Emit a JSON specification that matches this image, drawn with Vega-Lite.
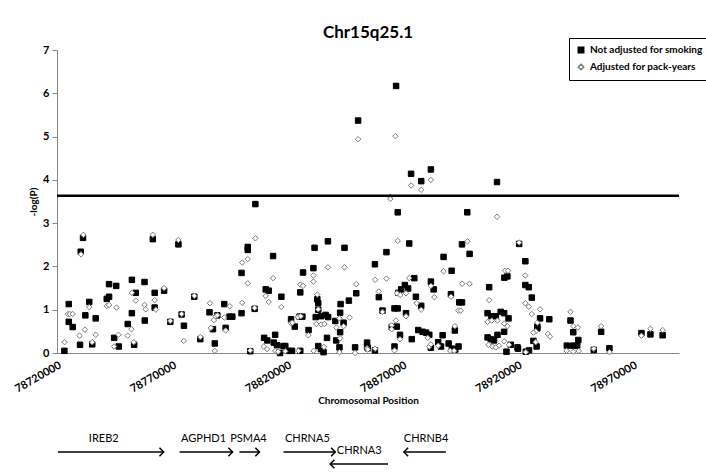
{
"$schema": "https://vega.github.io/schema/vega-lite/v6.json",
"padding": {"left": 12, "top": 24, "right": 5, "bottom": 0},
"background": "white",
"config": {
  "font": "Lato",
  "view": {"stroke": null},
  "axis": {"domainColor": "#868686", "tickColor": "#868686", "labelFontWeight": "bold", "labelFontSize": 11, "labelColor": "#000", "titleFontSize": 10, "titleFontWeight": "bold", "titleColor": "#000", "grid": false},
  "legend": {"labelFontSize": 10, "labelFontWeight": "bold", "labelColor": "#000"}
},
"spacing": 22,
"resolve": {"scale": {"x": "independent", "y": "independent"}},
"datasets": {
"snps": [
{"p":78723200,"v":0.05,"m":"u"},{"p":78725100,"v":1.13,"m":"u"},{"p":78725100,"v":0.72,"m":"u"},{"p":78726800,"v":0.6,"m":"u"},{"p":78730000,"v":0.19,"m":"u"},{"p":78730300,"v":2.34,"m":"u"},{"p":78731300,"v":2.66,"m":"u"},{"p":78732300,"v":0.87,"m":"u"},{"p":78734000,"v":1.18,"m":"u"},{"p":78735300,"v":0.2,"m":"u"},{"p":78736800,"v":0.8,"m":"u"},{"p":78741600,"v":1.25,"m":"u"},{"p":78742600,"v":1.3,"m":"u"},{"p":78742600,"v":1.59,"m":"u"},{"p":78745700,"v":1.55,"m":"u"},{"p":78744800,"v":0.35,"m":"u"},{"p":78746800,"v":0.15,"m":"u"},{"p":78750700,"v":0.67,"m":"u"},{"p":78752500,"v":1.69,"m":"u"},{"p":78754200,"v":1.39,"m":"u"},{"p":78752500,"v":0.92,"m":"u"},{"p":78753500,"v":0.19,"m":"u"},{"p":78758000,"v":1.64,"m":"u"},{"p":78758100,"v":0.75,"m":"u"},{"p":78761600,"v":2.63,"m":"u"},{"p":78762400,"v":1.39,"m":"u"},{"p":78762400,"v":1.05,"m":"u"},{"p":78766500,"v":1.44,"m":"u"},{"p":78769200,"v":0.72,"m":"u"},{"p":78772700,"v":2.51,"m":"u"},{"p":78774100,"v":0.89,"m":"u"},{"p":78775100,"v":0.63,"m":"u"},{"p":78779600,"v":1.3,"m":"u"},{"p":78782200,"v":0.32,"m":"u"},{"p":78786200,"v":0.94,"m":"u"},{"p":78787700,"v":0.55,"m":"u"},{"p":78788500,"v":0.22,"m":"u"},{"p":78789600,"v":0.87,"m":"u"},{"p":78792600,"v":1.13,"m":"u"},{"p":78793200,"v":0.58,"m":"u"},{"p":78794900,"v":0.84,"m":"u"},{"p":78796100,"v":0.84,"m":"u"},{"p":78800100,"v":1.85,"m":"u"},{"p":78800100,"v":0.92,"m":"u"},{"p":78802800,"v":2.45,"m":"u"},{"p":78802800,"v":2.38,"m":"u"},{"p":78806100,"v":3.44,"m":"u"},{"p":78805800,"v":1.02,"m":"u"},{"p":78803900,"v":0.04,"m":"u"},{"p":78809900,"v":0.35,"m":"u"},{"p":78811300,"v":0.29,"m":"u"},{"p":78810600,"v":1.47,"m":"u"},{"p":78811900,"v":1.44,"m":"u"},{"p":78813800,"v":2.24,"m":"u"},{"p":78814700,"v":0.42,"m":"u"},{"p":78814100,"v":0.24,"m":"u"},{"p":78815500,"v":0.18,"m":"u"},{"p":78816800,"v":0.0,"m":"u"},{"p":78817400,"v":1.3,"m":"u"},{"p":78818300,"v":0.16,"m":"u"},{"p":78819100,"v":0.16,"m":"u"},{"p":78820600,"v":0.05,"m":"u"},{"p":78822000,"v":0.05,"m":"u"},{"p":78825600,"v":0.05,"m":"u"},{"p":78821600,"v":0.78,"m":"u"},{"p":78823200,"v":0.61,"m":"u"},{"p":78825300,"v":0.84,"m":"u"},{"p":78826500,"v":0.84,"m":"u"},{"p":78825600,"v":1.4,"m":"u"},{"p":78826800,"v":1.86,"m":"u"},{"p":78831300,"v":1.96,"m":"u"},{"p":78831800,"v":2.43,"m":"u"},{"p":78837600,"v":2.58,"m":"u"},{"p":78844800,"v":2.43,"m":"u"},{"p":78833000,"v":1.24,"m":"u"},{"p":78833400,"v":1.15,"m":"u"},{"p":78833400,"v":1.0,"m":"u"},{"p":78829200,"v":0.53,"m":"u"},{"p":78832300,"v":0.83,"m":"u"},{"p":78834700,"v":0.85,"m":"u"},{"p":78836600,"v":0.88,"m":"u"},{"p":78837700,"v":0.83,"m":"u"},{"p":78837200,"v":0.35,"m":"u"},{"p":78833400,"v":0.16,"m":"u"},{"p":78834600,"v":0.09,"m":"u"},{"p":78835700,"v":0.02,"m":"u"},{"p":78840800,"v":0.74,"m":"u"},{"p":78842900,"v":0.93,"m":"u"},{"p":78843100,"v":1.13,"m":"u"},{"p":78844400,"v":0.7,"m":"u"},{"p":78842900,"v":0.48,"m":"u"},{"p":78841200,"v":0.29,"m":"u"},{"p":78842600,"v":0.13,"m":"u"},{"p":78846700,"v":1.21,"m":"u"},{"p":78849900,"v":1.38,"m":"u"},{"p":78849400,"v":0.13,"m":"u"},{"p":78850700,"v":5.37,"m":"u"},{"p":78854600,"v":0.24,"m":"u"},{"p":78854600,"v":0.15,"m":"u"},{"p":78854900,"v":0.11,"m":"u"},{"p":78858000,"v":2.05,"m":"u"},{"p":78858000,"v":0.06,"m":"u"},{"p":78859700,"v":1.29,"m":"u"},{"p":78861300,"v":0.98,"m":"u"},{"p":78863000,"v":2.33,"m":"u"},{"p":78867900,"v":3.25,"m":"u"},{"p":78867200,"v":6.17,"m":"u"},{"p":78872900,"v":2.53,"m":"u"},{"p":78873700,"v":4.14,"m":"u"},{"p":78878100,"v":3.97,"m":"u"},{"p":78882300,"v":4.24,"m":"u"},{"p":78911000,"v":3.95,"m":"u"},{"p":78898100,"v":3.25,"m":"u"},{"p":78895800,"v":2.51,"m":"u"},{"p":78899100,"v":2.29,"m":"u"},{"p":78920600,"v":2.52,"m":"u"},{"p":78887800,"v":2.22,"m":"u"},{"p":78891300,"v":1.9,"m":"u"},{"p":78875100,"v":1.73,"m":"u"},{"p":78882300,"v":1.65,"m":"u"},{"p":78883500,"v":1.47,"m":"u"},{"p":78871000,"v":1.57,"m":"u"},{"p":78872400,"v":1.49,"m":"u"},{"p":78869400,"v":1.47,"m":"u"},{"p":78868200,"v":1.39,"m":"u"},{"p":78875800,"v":1.3,"m":"u"},{"p":78878100,"v":1.09,"m":"u"},{"p":78891000,"v":1.36,"m":"u"},{"p":78894600,"v":1.17,"m":"u"},{"p":78895800,"v":1.17,"m":"u"},{"p":78907600,"v":1.52,"m":"u"},{"p":78914200,"v":1.74,"m":"u"},{"p":78915500,"v":1.77,"m":"u"},{"p":78866500,"v":1.03,"m":"u"},{"p":78867900,"v":1.03,"m":"u"},{"p":78867500,"v":0.61,"m":"u"},{"p":78865300,"v":0.6,"m":"u"},{"p":78871500,"v":0.92,"m":"u"},{"p":78868900,"v":0.42,"m":"u"},{"p":78874000,"v":0.32,"m":"u"},{"p":78876800,"v":0.53,"m":"u"},{"p":78878700,"v":0.49,"m":"u"},{"p":78880200,"v":0.47,"m":"u"},{"p":78881600,"v":0.42,"m":"u"},{"p":78882300,"v":0.12,"m":"u"},{"p":78887400,"v":0.41,"m":"u"},{"p":78885500,"v":0.25,"m":"u"},{"p":78886700,"v":0.15,"m":"u"},{"p":78890000,"v":0.22,"m":"u"},{"p":78891400,"v":0.1,"m":"u"},{"p":78892900,"v":0.08,"m":"u"},{"p":78894300,"v":0.15,"m":"u"},{"p":78892700,"v":0.52,"m":"u"},{"p":78866500,"v":0.15,"m":"u"},{"p":78906900,"v":0.92,"m":"u"},{"p":78908600,"v":0.85,"m":"u"},{"p":78910500,"v":0.85,"m":"u"},{"p":78912600,"v":0.95,"m":"u"},{"p":78914100,"v":0.92,"m":"u"},{"p":78916000,"v":0.8,"m":"u"},{"p":78906900,"v":0.36,"m":"u"},{"p":78908300,"v":0.32,"m":"u"},{"p":78909700,"v":0.29,"m":"u"},{"p":78911200,"v":0.42,"m":"u"},{"p":78914100,"v":0.49,"m":"u"},{"p":78915100,"v":0.03,"m":"u"},{"p":78917000,"v":0.19,"m":"u"},{"p":78920100,"v":0.1,"m":"u"},{"p":78923300,"v":2.12,"m":"u"},{"p":78923300,"v":1.57,"m":"u"},{"p":78924800,"v":1.52,"m":"u"},{"p":78926100,"v":1.28,"m":"u"},{"p":78929700,"v":0.8,"m":"u"},{"p":78928500,"v":0.61,"m":"u"},{"p":78928500,"v":0.57,"m":"u"},{"p":78933700,"v":0.78,"m":"u"},{"p":78926800,"v":0.28,"m":"u"},{"p":78928200,"v":0.15,"m":"u"},{"p":78919900,"v":0.13,"m":"u"},{"p":78923500,"v":0.03,"m":"u"},{"p":78924900,"v":0.06,"m":"u"},{"p":78942900,"v":0.75,"m":"u"},{"p":78944100,"v":0.48,"m":"u"},{"p":78946300,"v":0.3,"m":"u"},{"p":78945800,"v":0.17,"m":"u"},{"p":78944100,"v":0.17,"m":"u"},{"p":78941300,"v":0.17,"m":"u"},{"p":78953000,"v":0.07,"m":"u"},{"p":78956200,"v":0.49,"m":"u"},{"p":78959800,"v":0.11,"m":"u"},{"p":78973700,"v":0.46,"m":"u"},{"p":78977600,"v":0.43,"m":"u"},{"p":78982900,"v":0.41,"m":"u"},
{"p":78723300,"v":0.25,"m":"a"},{"p":78724800,"v":0.9,"m":"a"},{"p":78725600,"v":0.9,"m":"a"},{"p":78726800,"v":0.9,"m":"a"},{"p":78729800,"v":0.4,"m":"a"},{"p":78730400,"v":2.28,"m":"a"},{"p":78731400,"v":2.73,"m":"a"},{"p":78732100,"v":0.54,"m":"a"},{"p":78734000,"v":1.06,"m":"a"},{"p":78735300,"v":0.25,"m":"a"},{"p":78736800,"v":0.42,"m":"a"},{"p":78741600,"v":1.09,"m":"a"},{"p":78742600,"v":1.11,"m":"a"},{"p":78745800,"v":1.05,"m":"a"},{"p":78744800,"v":0.15,"m":"a"},{"p":78746700,"v":0.42,"m":"a"},{"p":78750700,"v":0.4,"m":"a"},{"p":78752500,"v":1.39,"m":"a"},{"p":78754200,"v":1.21,"m":"a"},{"p":78752300,"v":0.55,"m":"a"},{"p":78753300,"v":0.25,"m":"a"},{"p":78758000,"v":1.11,"m":"a"},{"p":78758500,"v":1.01,"m":"a"},{"p":78761600,"v":2.73,"m":"a"},{"p":78762400,"v":1.22,"m":"a"},{"p":78762900,"v":1.0,"m":"a"},{"p":78766500,"v":1.5,"m":"a"},{"p":78769200,"v":0.74,"m":"a"},{"p":78772700,"v":2.61,"m":"a"},{"p":78774100,"v":0.9,"m":"a"},{"p":78775000,"v":0.28,"m":"a"},{"p":78779600,"v":1.32,"m":"a"},{"p":78782200,"v":0.37,"m":"a"},{"p":78786400,"v":1.15,"m":"a"},{"p":78786800,"v":0.58,"m":"a"},{"p":78788500,"v":0.05,"m":"a"},{"p":78788100,"v":0.76,"m":"a"},{"p":78788800,"v":0.85,"m":"a"},{"p":78789600,"v":0.87,"m":"a"},{"p":78792600,"v":0.82,"m":"a"},{"p":78793200,"v":0.52,"m":"a"},{"p":78795000,"v":1.08,"m":"a"},{"p":78800400,"v":2.09,"m":"a"},{"p":78800400,"v":1.16,"m":"a"},{"p":78802800,"v":2.17,"m":"a"},{"p":78802800,"v":1.61,"m":"a"},{"p":78806100,"v":2.65,"m":"a"},{"p":78805800,"v":1.04,"m":"a"},{"p":78803900,"v":0.06,"m":"a"},{"p":78809700,"v":0.15,"m":"a"},{"p":78811200,"v":0.09,"m":"a"},{"p":78810600,"v":1.32,"m":"a"},{"p":78811900,"v":1.18,"m":"a"},{"p":78813800,"v":1.73,"m":"a"},{"p":78814700,"v":0.05,"m":"a"},{"p":78816000,"v":0.03,"m":"a"},{"p":78817400,"v":1.06,"m":"a"},{"p":78819100,"v":0.04,"m":"a"},{"p":78824800,"v":0.05,"m":"a"},{"p":78821600,"v":0.69,"m":"a"},{"p":78822200,"v":0.7,"m":"a"},{"p":78824600,"v":0.83,"m":"a"},{"p":78825800,"v":0.85,"m":"a"},{"p":78825600,"v":1.58,"m":"a"},{"p":78826800,"v":1.55,"m":"a"},{"p":78831300,"v":1.65,"m":"a"},{"p":78831300,"v":1.79,"m":"a"},{"p":78837600,"v":1.98,"m":"a"},{"p":78844800,"v":1.98,"m":"a"},{"p":78833000,"v":1.35,"m":"a"},{"p":78833400,"v":1.01,"m":"a"},{"p":78829100,"v":0.41,"m":"a"},{"p":78832600,"v":0.67,"m":"a"},{"p":78834700,"v":0.66,"m":"a"},{"p":78836100,"v":0.67,"m":"a"},{"p":78831400,"v":0.05,"m":"a"},{"p":78835900,"v":0.14,"m":"a"},{"p":78841200,"v":0.59,"m":"a"},{"p":78842600,"v":0.8,"m":"a"},{"p":78844400,"v":0.62,"m":"a"},{"p":78842900,"v":0.34,"m":"a"},{"p":78842600,"v":0.02,"m":"a"},{"p":78847000,"v":0.82,"m":"a"},{"p":78849900,"v":1.59,"m":"a"},{"p":78849400,"v":0.0,"m":"a"},{"p":78850700,"v":4.94,"m":"a"},{"p":78854600,"v":0.11,"m":"a"},{"p":78858100,"v":1.69,"m":"a"},{"p":78859700,"v":1.42,"m":"a"},{"p":78861300,"v":0.95,"m":"a"},{"p":78858100,"v":0.1,"m":"a"},{"p":78863000,"v":1.72,"m":"a"},{"p":78864600,"v":3.61,"m":"a"},{"p":78864700,"v":3.56,"m":"a"},{"p":78867900,"v":2.59,"m":"a"},{"p":78866900,"v":5.01,"m":"a"},{"p":78873700,"v":3.87,"m":"a"},{"p":78878100,"v":3.77,"m":"a"},{"p":78882300,"v":4.0,"m":"a"},{"p":78911000,"v":3.15,"m":"a"},{"p":78898200,"v":2.58,"m":"a"},{"p":78920600,"v":2.55,"m":"a"},{"p":78887800,"v":1.89,"m":"a"},{"p":78895900,"v":1.6,"m":"a"},{"p":78899100,"v":1.6,"m":"a"},{"p":78872900,"v":1.73,"m":"a"},{"p":78882300,"v":1.55,"m":"a"},{"p":78883800,"v":1.29,"m":"a"},{"p":78867600,"v":1.38,"m":"a"},{"p":78869000,"v":1.34,"m":"a"},{"p":78871500,"v":1.38,"m":"a"},{"p":78876100,"v":1.15,"m":"a"},{"p":78878100,"v":1.0,"m":"a"},{"p":78891000,"v":1.3,"m":"a"},{"p":78894200,"v":0.98,"m":"a"},{"p":78895300,"v":0.98,"m":"a"},{"p":78907600,"v":1.22,"m":"a"},{"p":78914500,"v":1.9,"m":"a"},{"p":78915800,"v":1.9,"m":"a"},{"p":78867100,"v":0.75,"m":"a"},{"p":78865300,"v":0.64,"m":"a"},{"p":78865300,"v":0.55,"m":"a"},{"p":78871500,"v":0.85,"m":"a"},{"p":78868900,"v":0.32,"m":"a"},{"p":78880900,"v":0.35,"m":"a"},{"p":78881600,"v":0.15,"m":"a"},{"p":78882300,"v":0.2,"m":"a"},{"p":78885500,"v":0.17,"m":"a"},{"p":78892700,"v":0.62,"m":"a"},{"p":78890700,"v":0.05,"m":"a"},{"p":78892400,"v":0.05,"m":"a"},{"p":78866500,"v":0.06,"m":"a"},{"p":78906900,"v":0.72,"m":"a"},{"p":78908700,"v":0.75,"m":"a"},{"p":78911200,"v":0.75,"m":"a"},{"p":78914100,"v":0.68,"m":"a"},{"p":78915500,"v":0.62,"m":"a"},{"p":78907300,"v":0.19,"m":"a"},{"p":78909000,"v":0.15,"m":"a"},{"p":78910500,"v":0.13,"m":"a"},{"p":78911900,"v":0.17,"m":"a"},{"p":78914100,"v":0.27,"m":"a"},{"p":78916200,"v":0.19,"m":"a"},{"p":78923300,"v":1.79,"m":"a"},{"p":78923300,"v":1.15,"m":"a"},{"p":78924800,"v":1.07,"m":"a"},{"p":78926100,"v":0.9,"m":"a"},{"p":78929700,"v":1.01,"m":"a"},{"p":78928500,"v":0.7,"m":"a"},{"p":78927800,"v":0.5,"m":"a"},{"p":78933100,"v":0.44,"m":"a"},{"p":78934000,"v":0.38,"m":"a"},{"p":78926800,"v":0.47,"m":"a"},{"p":78927800,"v":0.25,"m":"a"},{"p":78923500,"v":0.02,"m":"a"},{"p":78942900,"v":0.95,"m":"a"},{"p":78944100,"v":0.62,"m":"a"},{"p":78946100,"v":0.59,"m":"a"},{"p":78941200,"v":0.05,"m":"a"},{"p":78944100,"v":0.03,"m":"a"},{"p":78946500,"v":0.05,"m":"a"},{"p":78953000,"v":0.1,"m":"a"},{"p":78956200,"v":0.62,"m":"a"},{"p":78959800,"v":0.02,"m":"a"},{"p":78973700,"v":0.4,"m":"a"},{"p":78977600,"v":0.56,"m":"a"},{"p":78982900,"v":0.53,"m":"a"},{"p":78854900,"v":0.08,"m":"a"}
],
"genes": [
{"gene":"IREB2","start":78720400,"end":78766300,"label":78740300,"row":1,"dir":"fwd"},
{"gene":"AGPHD1","start":78773200,"end":78796200,"label":78783600,"row":1,"dir":"fwd"},
{"gene":"PSMA4","start":78799200,"end":78807900,"label":78803100,"row":1,"dir":"fwd"},
{"gene":"CHRNA5","start":78818300,"end":78840800,"label":78828700,"row":1,"dir":"fwd"},
{"gene":"CHRNA3","start":78863700,"end":78838600,"label":78851200,"row":2,"dir":"rev"},
{"gene":"CHRNB4","start":78888800,"end":78870600,"label":78880200,"row":1,"dir":"rev"}
]
},
"vconcat": [
{
  "width": 622, "height": 303,
  "title": {"text": "Chr15q25.1", "fontSize": 17, "fontWeight": "bold", "font": "Lato", "offset": 2, "color": "#000"},
  "layer": [
    {
      "data": {"name": "snps"},
      "mark": {"type": "point", "filled": true, "strokeWidth": 1, "size": 30, "opacity": 1},
      "encoding": {
        "x": {"field": "p", "type": "quantitative", "scale": {"domain": [78720000, 78990000], "nice": false, "zero": false},
              "axis": {"values": [78720000, 78770000, 78820000, 78870000, 78920000, 78970000], "format": "d", "labelAngle": -30, "ticks": false, "labelPadding": 6, "title": "Chromosomal Position", "titlePadding": 1}},
        "y": {"field": "v", "type": "quantitative", "scale": {"domain": [0, 7], "nice": false},
              "axis": {"values": [0, 1, 2, 3, 4, 5, 6, 7], "tickSize": 5, "labelPadding": 3, "title": "-log(P)", "titlePadding": 4}},
        "shape": {"field": "m", "type": "nominal", "scale": {"domain": ["u", "a"], "range": ["square", "diamond"]},
                  "legend": {"title": null, "orient": "none", "legendX": 512, "legendY": -12, "strokeColor": "#000", "padding": 7, "rowPadding": 5, "symbolSize": 30, "labelExpr": "datum.value == 'u' ? 'Not adjusted for smoking' : 'Adjusted for pack-years'"}},
        "fill": {"field": "m", "type": "nominal", "scale": {"domain": ["u", "a"], "range": ["#000000", "#ffffff"]},
                 "legend": {"title": null, "orient": "none", "legendX": 512, "legendY": -12, "strokeColor": "#000", "padding": 7, "rowPadding": 5, "symbolSize": 30, "labelExpr": "datum.value == 'u' ? 'Not adjusted for smoking' : 'Adjusted for pack-years'"}},
        "stroke": {"field": "m", "type": "nominal", "scale": {"domain": ["u", "a"], "range": ["#000000", "#7a7a7a"]},
                 "legend": {"title": null, "orient": "none", "legendX": 512, "legendY": -12, "strokeColor": "#000", "padding": 7, "rowPadding": 5, "symbolSize": 30, "labelExpr": "datum.value == 'u' ? 'Not adjusted for smoking' : 'Adjusted for pack-years'"}}
      }
    },
    {
      "data": {"values": [{"threshold": 3.63}]},
      "mark": {"type": "rule", "color": "#000", "strokeWidth": 2.5},
      "encoding": {"y": {"field": "threshold", "type": "quantitative"}}
    }
  ]
},
{
  "width": 622, "height": 48,
  "data": {"name": "genes"},
  "encoding": {
    "y": {"field": "row", "type": "quantitative", "scale": {"domain": [-1, 3], "reverse": true, "nice": false, "zero": false}, "axis": null}
  },
  "layer": [
    {
      "mark": {"type": "rule", "color": "#000", "strokeWidth": 1.5},
      "encoding": {
        "x": {"field": "start", "type": "quantitative", "scale": {"domain": [78720000, 78990000], "nice": false, "zero": false}, "axis": null},
        "x2": {"field": "end"}
      }
    },
    {
      "transform": [{"filter": "datum.dir == 'fwd'"}],
      "mark": {"type": "point", "shape": "M-1,-1L0,0L-1,1", "filled": false, "stroke": "#000", "strokeWidth": 1.5, "size": 70, "opacity": 1},
      "encoding": {"x": {"field": "end", "type": "quantitative"}}
    },
    {
      "transform": [{"filter": "datum.dir == 'rev'"}],
      "mark": {"type": "point", "shape": "M1,-1L0,0L1,1", "filled": false, "stroke": "#000", "strokeWidth": 1.5, "size": 70, "opacity": 1},
      "encoding": {"x": {"field": "end", "type": "quantitative"}}
    },
    {
      "mark": {"type": "text", "dy": -13, "fontSize": 11, "font": "Lato", "color": "#000"},
      "encoding": {
        "x": {"field": "label", "type": "quantitative"},
        "text": {"field": "gene"}
      }
    }
  ]
}
]
}
